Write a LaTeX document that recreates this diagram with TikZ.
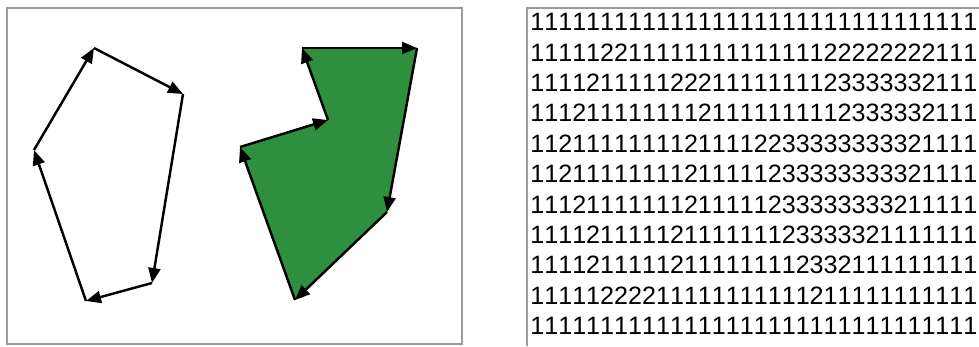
\documentclass[tikz,border=0pt]{standalone}
\usepackage{fontspec}
\newfontfamily\gridfont[Kerning=Off]{Liberation Sans}
\usetikzlibrary{arrows.meta}
\definecolor{FrameGray}{HTML}{9A9A9A}
\definecolor{ShapeGreen}{HTML}{2E8F3F}

\begin{document}
\begin{tikzpicture}[x=0.02cm,y=-0.02cm,
  frame/.style={draw=FrameGray,line width=1.1pt},
  arrow/.style={-{Triangle[length=3mm,width=2.4mm]},line width=1.4pt},
  digits/.style={anchor=west,inner sep=0pt,font=\gridfont\fontsize{14.3}{18}\selectfont}
]
\useasboundingbox (0,0) rectangle (979,346);
\draw[frame] (7,8) rectangle (462,344);
\draw[frame] (979,8) -- (527,8) -- (527,346);
\coordinate (a1) at (94,48);
\coordinate (a2) at (183,94);
\coordinate (a3) at (152,283);
\coordinate (a4) at (86,301);
\coordinate (a5) at (34,150);
\coordinate (g1) at (302,48);
\coordinate (g2) at (417,48);
\coordinate (g3) at (387,212);
\coordinate (g4) at (295,300);
\coordinate (g5) at (240,147);
\coordinate (g6) at (328,120);
\fill[ShapeGreen] (g1) -- (g2) -- (g3) -- (g4) -- (g5) -- (g6) -- cycle;
\draw[arrow] (a1) -- (a2);
\draw[arrow] (a2) -- (a3);
\draw[arrow] (a3) -- (a4);
\draw[arrow] (a4) -- (a5);
\draw[arrow] (a5) -- (a1);
\draw[arrow] (g1) -- (g2);
\draw[arrow] (g2) -- (g3);
\draw[arrow] (g3) -- (g4);
\draw[arrow] (g4) -- (g5);
\draw[arrow] (g5) -- (g6);
\draw[arrow] (g6) -- (g1);
\foreach \cells [count=\i] in {
  11111111111111111111111111111111,
  11111221111111111111122222222111,
  11112111112221111111123333332111,
  11121111111121111111112333332111,
  11211111111211112233333333321111,
  11211111111211111233333333321111,
  11121111111211111233333333211111,
  11112111112111111123333321111111,
  11112111112111111112332111111111,
  11111222211111111111211111111111,
  11111111111111111111111111111111}
  \node[digits] (row\i) at (530,{22+30.4*(\i-1)}) {\cells};
\end{tikzpicture}
\end{document}
